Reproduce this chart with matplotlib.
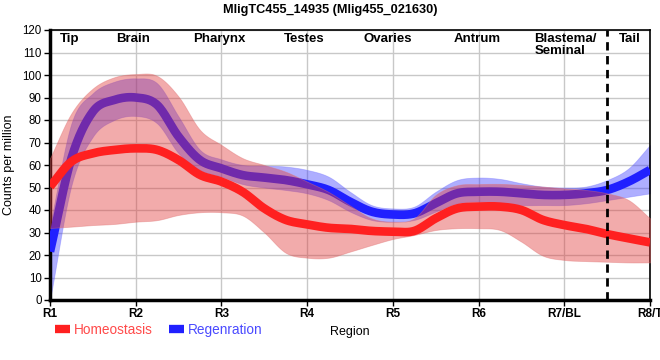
import numpy as np
import matplotlib
matplotlib.use("Agg")
import matplotlib.pyplot as plt
from matplotlib.lines import Line2D

plt.rcParams["font.family"] = ["Liberation Sans", "DejaVu Sans"]

regions = ["R1", "R2", "R3", "R4", "R5", "R6", "R7/BL", "R8/T"]
parts = ["Tip", "Brain", "Pharynx", "Testes", "Ovaries", "Antrum", "Blastema/\nSeminal", "Tail"]
part_pos = [0.23, 0.97, 1.98, 2.96, 3.94, 4.98, 5.65, 6.77]

pos = np.linspace(0, 7, 29)

homeo_mean = [50.4, 61.5, 65.2, 66.7, 67.4, 66.7, 62.2, 55.6, 52.6, 48, 40.7, 35.6, 33.6, 32.1, 31.6,
              30.7, 30.4, 30.7, 36.3, 40.7, 41.5, 41.5, 40, 35.6, 33.3, 31.6, 29.3, 27.4, 25.6]
homeo_hi = [63, 83, 94, 99, 100.4, 99.6, 90.4, 75.6, 68.9, 63, 60, 57, 52.6, 48, 42,
            36.3, 34.8, 36.3, 46.7, 51, 51.5, 51.6, 51.1, 50.4, 49.6, 48.9, 47.4, 44.4, 36.3]
homeo_lo = [32, 32.6, 33.3, 33.8, 34.8, 35.5, 37.8, 39, 39, 37.5, 30, 21, 18.8, 18.8, 21.5,
            24.4, 27.1, 28.9, 31.1, 31.9, 31.9, 31.1, 25.9, 19.7, 17.8, 17.3, 17, 16.7, 16.7]

regen_mean = [21.5, 63, 83.7, 88.9, 90, 86.7, 72.6, 62.2, 58.5, 55.5, 54.4, 53.3, 51.4, 48.9, 43.7,
              39.3, 38, 38.5, 43, 47.4, 48.1, 48.1, 47.4, 46.7, 46.7, 47.4, 48.9, 52.6, 57.8]
regen_hi = [33, 78.5, 91.9, 97, 98.5, 96.3, 81.5, 66.7, 62.5, 60, 59.7, 59.3, 57.8, 54.8, 48.1,
            42.2, 40.7, 41.5, 48.1, 53.3, 54.4, 53.8, 51.9, 50.4, 50, 50.4, 53.3, 58.5, 68.9]
regen_lo = [0, 51, 72.6, 80, 81.8, 78.5, 65.2, 57.8, 54.8, 51.5, 50, 48.9, 47.4, 44.4, 39.3,
            35.6, 34.8, 35.6, 39.3, 43, 43.7, 43, 42.2, 42.2, 42.2, 43, 44.4, 45.9, 47.4]

RED = "#ff2020"
BLUE = "#2020ff"


def smooth(x, y, n=16):
    # Catmull-Rom drawing of the sampled profile (like a d3 cardinal curve)
    x = np.asarray(x, float)
    y = np.asarray(y, float)
    h = np.diff(x)
    m = np.gradient(y, x)
    t = np.linspace(0, 1, n, endpoint=False)
    h00 = 2 * t**3 - 3 * t**2 + 1
    h10 = t**3 - 2 * t**2 + t
    h01 = -2 * t**3 + 3 * t**2
    h11 = t**3 - t**2
    xs, ys = [], []
    for k in range(len(h)):
        xs.append(x[k] + t * h[k])
        ys.append(h00 * y[k] + h10 * h[k] * m[k] + h01 * y[k + 1] + h11 * h[k] * m[k + 1])
    xs.append([x[-1]])
    ys.append([y[-1]])
    return np.concatenate(xs), np.concatenate(ys)


fig = plt.figure(figsize=(6.6, 3.6), dpi=100)
ax = fig.add_axes([50 / 660, 60 / 360, 600 / 660, 270 / 360])

xs, lo = smooth(pos, regen_lo)
_, hi = smooth(pos, regen_hi)
ax.fill_between(xs, lo, hi, color="#3535ff", alpha=0.4, linewidth=0.6, edgecolor="#7070ff", zorder=2)
ax.plot(*smooth(pos, regen_mean), color=BLUE, lw=6.2, solid_capstyle="butt", zorder=3)

xs, lo = smooth(pos, homeo_lo)
_, hi = smooth(pos, homeo_hi)
ax.fill_between(xs, lo, hi, color="#e03838", alpha=0.42, linewidth=0.6, edgecolor="#e07070", zorder=4)
ax.plot(*smooth(pos, homeo_mean), color=RED, lw=6.2, solid_capstyle="butt", zorder=5)

ax.axvline(6.5, color="black", lw=2, ls=(0, (3, 2)), zorder=6)

for name, x in zip(parts, part_pos):
    ha = "left" if "\n" in name else "center"
    ax.text(x, 118.5, name, ha=ha, va="top", fontsize=9.5, fontweight="bold",
            linespacing=1.0, zorder=7)

ax.set_xlim(0, 7)
ax.set_ylim(0, 120)
ax.set_xticks(range(len(regions)))
ax.set_xticklabels(regions, fontsize=8.5, fontweight="bold")
ax.set_yticks(np.arange(0, 121, 10))
ax.tick_params(axis="y", labelsize=8.3)
ax.tick_params(length=4, width=1, pad=2)
ax.grid(color="#c8c8c8", lw=1)
ax.set_axisbelow(True)
for side in ("left", "bottom"):
    ax.spines[side].set_linewidth(2.5)
for side in ("top", "right"):
    ax.spines[side].set_linewidth(1.2)

ax.set_ylabel("Counts per million", fontsize=9, labelpad=5)
ax.set_xlabel("Region", fontsize=9, labelpad=4)
fig.suptitle("MligTC455_14935 (Mlig455_021630)", fontsize=9.2, fontweight="bold", y=0.99)

handles = [Line2D([], [], color=RED, lw=6, solid_capstyle="butt"),
           Line2D([], [], color=BLUE, lw=6, solid_capstyle="butt")]
leg = fig.legend(handles, ["Homeostasis", "Regenration"], loc="center left",
                 bbox_to_anchor=(55 / 660, 1 - 330 / 360), ncol=2, frameon=False,
                 fontsize=9.8, handlelength=1.1, handletextpad=0.3, columnspacing=1.2,
                 borderaxespad=0, borderpad=0)
for txt, c in zip(leg.get_texts(), ["#ff4a4a", "#4a4aff"]):
    txt.set_color(c)

fig.savefig("out.png", dpi=100)
